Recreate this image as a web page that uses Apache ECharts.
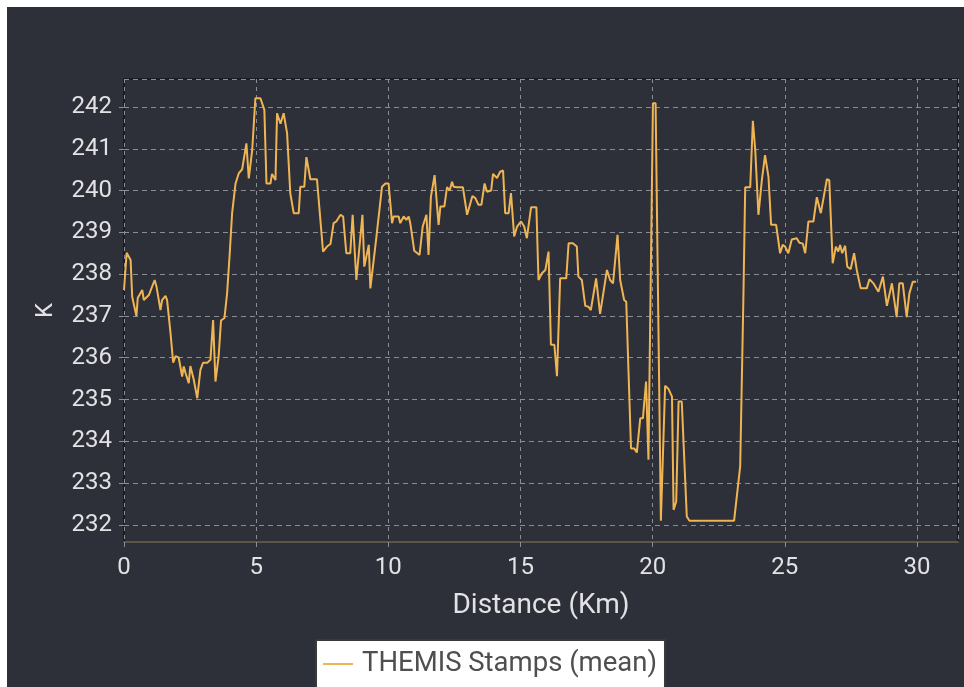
<!DOCTYPE html>
<html>
<head>
<meta charset="utf-8">
<title>THEMIS Stamps (mean)</title>
<script src="https://cdn.jsdelivr.net/npm/echarts@6/dist/echarts.min.js"></script>
<style>
  html, body { margin: 0; padding: 0; background: #ffffff; }
  #chart { position: absolute; left: 7px; top: 7px; width: 957px; height: 680px; }
</style>
</head>
<body>
<div id="chart"></div>
<script>
// Profile distance along the track (km)
const distanceKm = [
  0.00, 0.10, 0.25, 0.31, 0.47, 0.52, 0.69, 0.75, 0.94, 1.00,
  1.16, 1.23, 1.38, 1.44, 1.57, 1.63, 1.76, 1.86, 1.95, 2.07,
  2.20, 2.26, 2.33, 2.45, 2.51, 2.64, 2.77, 2.89, 2.99, 3.15,
  3.27, 3.37, 3.46, 3.58, 3.67, 3.80, 3.90, 4.00, 4.09, 4.22,
  4.34, 4.47, 4.53, 4.63, 4.72, 4.85, 4.97, 5.16, 5.31, 5.39,
  5.54, 5.60, 5.73, 5.79, 5.92, 6.04, 6.17, 6.29, 6.42, 6.61,
  6.67, 6.82, 6.90, 7.05, 7.30, 7.53, 7.68, 7.81, 7.93, 8.03,
  8.19, 8.29, 8.41, 8.56, 8.65, 8.79, 9.02, 9.09, 9.26, 9.32,
  9.55, 9.76, 9.89, 10.01, 10.14, 10.20, 10.39, 10.45, 10.58, 10.68,
  10.77, 10.83, 10.98, 11.18, 11.30, 11.44, 11.52, 11.61, 11.75, 11.90,
  11.97, 12.12, 12.22, 12.32, 12.41, 12.47, 12.60, 12.82, 12.98, 13.05,
  13.18, 13.29, 13.41, 13.52, 13.64, 13.73, 13.89, 13.96, 14.11, 14.23,
  14.34, 14.42, 14.55, 14.64, 14.76, 14.87, 15.02, 15.14, 15.24, 15.40,
  15.60, 15.68, 15.81, 15.94, 16.06, 16.15, 16.28, 16.38, 16.50, 16.73,
  16.82, 16.98, 17.13, 17.19, 17.32, 17.45, 17.57, 17.66, 17.86, 18.01,
  18.08, 18.27, 18.39, 18.50, 18.67, 18.77, 18.92, 19.00, 19.18, 19.30,
  19.40, 19.53, 19.63, 19.75, 19.84, 20.01, 20.11, 20.31, 20.47, 20.60,
  20.73, 20.79, 20.89, 20.98, 21.10, 21.29, 21.39, 23.08, 23.31, 23.43,
  23.50, 23.69, 23.79, 23.88, 24.00, 24.13, 24.25, 24.38, 24.48, 24.67,
  24.82, 24.92, 25.01, 25.13, 25.26, 25.45, 25.55, 25.68, 25.77, 25.89,
  26.08, 26.21, 26.36, 26.59, 26.68, 26.81, 26.93, 27.02, 27.09, 27.17,
  27.28, 27.36, 27.49, 27.62, 27.72, 27.87, 28.10, 28.20, 28.35, 28.54,
  28.71, 28.86, 29.05, 29.23, 29.33, 29.46, 29.61, 29.71, 29.84, 29.96
];

// Mean brightness temperature of the THEMIS stamps (K)
const meanTempK = [
  237.62, 238.51, 238.34, 237.46, 237.00, 237.43, 237.62, 237.38, 237.50, 237.52,
  237.86, 237.70, 237.14, 237.38, 237.48, 237.38, 236.59, 235.88, 236.04, 236.00,
  235.55, 235.79, 235.63, 235.39, 235.80, 235.47, 235.03, 235.71, 235.88, 235.88,
  235.95, 236.90, 235.43, 236.03, 236.89, 236.95, 237.54, 238.50, 239.46, 240.17,
  240.41, 240.51, 240.50, 241.13, 240.29, 240.97, 242.21, 242.21, 241.93, 240.17,
  240.17, 240.40, 240.25, 241.85, 241.60, 241.85, 241.37, 239.94, 239.46, 239.46,
  240.09, 240.09, 240.80, 240.27, 240.27, 238.54, 238.66, 238.72, 239.22, 239.26,
  239.42, 239.38, 238.50, 238.50, 239.42, 237.86, 239.42, 238.18, 238.70, 237.66,
  238.90, 240.09, 240.17, 240.17, 239.22, 239.38, 239.38, 239.22, 239.38, 239.30,
  239.38, 239.22, 238.56, 238.46, 239.14, 239.42, 238.46, 239.85, 240.37, 239.18,
  239.62, 239.62, 240.08, 240.00, 240.21, 240.09, 240.08, 240.08, 239.42, 239.42,
  239.87, 239.82, 239.66, 239.66, 240.17, 239.97, 240.00, 240.40, 240.30, 240.45,
  240.48, 239.46, 239.46, 239.94, 238.90, 239.14, 239.26, 239.14, 238.86, 239.60,
  239.60, 237.86, 238.02, 238.10, 238.54, 236.31, 236.31, 235.56, 237.90, 237.90,
  238.74, 238.74, 238.66, 237.94, 237.86, 237.24, 237.22, 237.14, 237.90, 237.05,
  237.05, 238.10, 237.86, 237.78, 238.94, 237.86, 237.38, 237.34, 233.83, 233.83,
  233.73, 234.55, 234.55, 235.43, 233.56, 242.09, 242.09, 232.10, 235.33, 235.25,
  235.07, 232.36, 232.56, 234.95, 234.95, 232.20, 232.10, 232.10, 233.40, 237.38,
  240.08, 240.08, 241.67, 240.97, 239.42, 240.25, 240.85, 240.33, 239.18, 239.18,
  238.50, 238.70, 238.66, 238.50, 238.83, 238.86, 238.75, 238.73, 238.50, 239.26,
  239.26, 239.84, 239.46, 240.27, 240.25, 238.26, 238.66, 238.54, 238.70, 238.50,
  238.68, 238.18, 238.12, 238.50, 238.10, 237.66, 237.66, 237.88, 237.78, 237.58,
  237.94, 237.24, 237.78, 236.97, 237.78, 237.78, 236.97, 237.54, 237.82, 237.82
];

const seriesName = 'THEMIS Stamps (mean)';
const xAxisTitle = 'Distance (Km)';
const yAxisTitle = 'K';

const points = distanceKm.map((d, i) => [d, meanTempK[i]]);

const chart = echarts.init(document.getElementById('chart'), null, { renderer: 'canvas' });

const labelColor = '#e2e2e4';
const gridDash = '#8b8d95';
const lineColor = '#efb553';

chart.setOption({
  backgroundColor: '#2d2f39',
  animation: false,
  textStyle: { fontFamily: 'Roboto' },
  grid: {
    left: 117, top: 72, right: 6, bottom: 145,
    show: true,
    borderColor: '#1b1c22',
    borderWidth: 2,
    backgroundColor: 'transparent'
  },
  legend: {
    left: 309, top: 633,
    data: [{ name: seriesName, icon: 'rect' }],
    backgroundColor: '#ffffff',
    borderColor: '#3a3a3a',
    borderWidth: 2,
    borderRadius: 0,
    padding: [10, 8, 30, 7],
    itemWidth: 30,
    itemHeight: 2,
    itemStyle: { color: lineColor },
    textStyle: { color: '#4f4f4f', fontSize: 27.5, fontFamily: 'Roboto', padding: [0, 0, 0, 4] }
  },
  xAxis: {
    type: 'value',
    min: 0,
    max: 31.55,
    interval: 5,
    name: xAxisTitle,
    nameLocation: 'middle',
    nameGap: 50,
    nameTextStyle: { color: labelColor, fontSize: 28 },
    axisLine: { show: true, lineStyle: { color: '#5b5646', width: 2 } },
    axisTick: { show: true, length: 5, lineStyle: { color: gridDash } },
    axisLabel: { color: labelColor, fontSize: 24, margin: 14, showMaxLabel: false },
    splitLine: { show: true, lineStyle: { color: gridDash, type: [4, 4], width: 1 } }
  },
  yAxis: {
    type: 'value',
    min: 231.59,
    max: 242.67,
    splitNumber: 10,
    minInterval: 1,
    maxInterval: 1,
    name: yAxisTitle,
    nameLocation: 'middle',
    nameGap: 66,
    nameRotate: 90,
    nameTextStyle: { color: labelColor, fontSize: 24 },
    axisLine: { show: false },
    axisTick: { show: true, length: 5, lineStyle: { color: gridDash } },
    axisLabel: { color: labelColor, fontSize: 24, margin: 12, showMinLabel: false, showMaxLabel: false },
    splitLine: { show: true, lineStyle: { color: gridDash, type: [5, 4], width: 1 } }
  },
  series: [{
    name: seriesName,
    type: 'line',
    data: points,
    symbol: 'none',
    lineStyle: { color: lineColor, width: 2 },
    itemStyle: { color: lineColor }
  }]
});
</script>
</body>
</html>
